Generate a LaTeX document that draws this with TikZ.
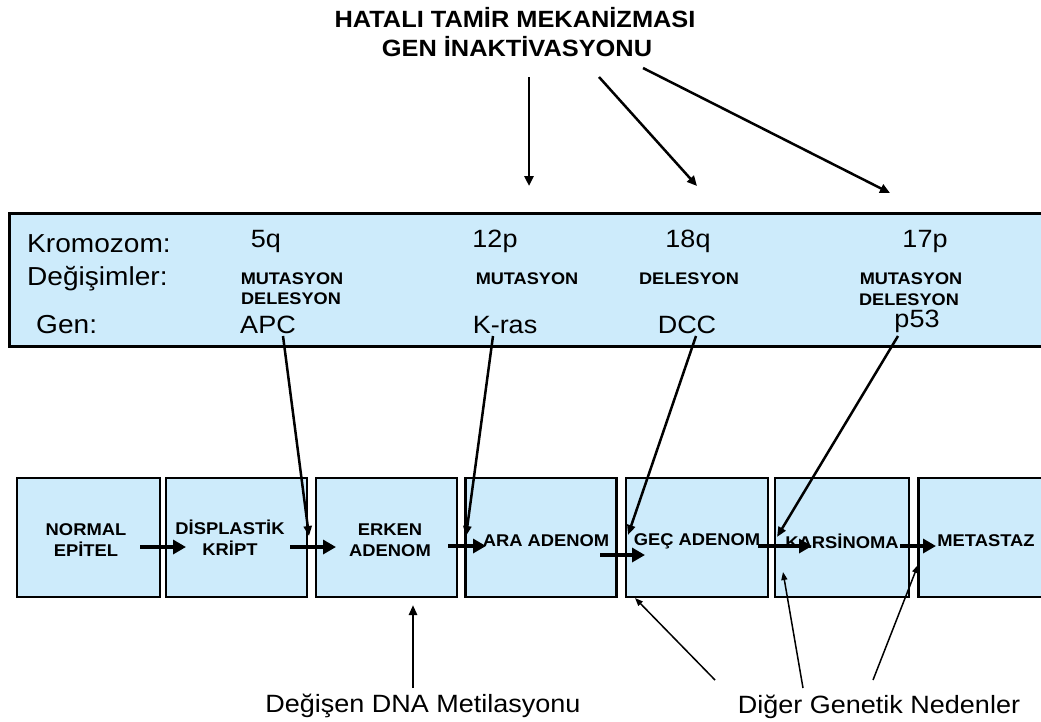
\documentclass[tikz,border=0pt]{standalone}
\usepackage{fontspec}
\setmainfont[FakeStretch=1.08]{Liberation Sans}
\usetikzlibrary{arrows.meta}
\definecolor{boxblue}{RGB}{205,235,251}
\begin{document}
\begin{tikzpicture}[x=1pt,y=-1pt,
  panel/.style={draw=black, line width=2.5pt, fill=boxblue, inner sep=0pt},
  stage/.style={draw=black, line width=2.5pt, fill=boxblue, inner sep=0pt, minimum height=119pt},
  lbl/.style={font=\fontsize{17}{21}\selectfont\bfseries, align=center, inner sep=0pt},
  big/.style={font=\fontsize{26}{30}\selectfont, inner sep=0pt},
  chr/.style={font=\fontsize{25}{30}\selectfont, inner sep=0pt},
  small/.style={font=\fontsize{16.8}{20}\selectfont\bfseries, align=center, inner sep=0pt},
  ttl/.style={font=\fontsize{23.5}{29}\selectfont\bfseries, align=center, inner sep=0pt},
  foot/.style={font=\fontsize{25}{30}\selectfont, inner sep=0pt},
  flow/.style={line width=4.5pt, -{Triangle[length=13pt,width=14pt]}},
  gene/.style={line width=2.5pt, -{Triangle[length=10pt,width=8pt]}},
  topar/.style={line width=2.5pt, -{Triangle[length=10pt,width=9pt]}},
  thin/.style={line width=1.5pt, -{Triangle[length=8pt,width=6pt]}}
]
\useasboundingbox (0,0) rectangle (1041,721);
\begin{scope}
\clip (0,0) rectangle (1041,721);
% top panel
\node[panel, minimum width=1050pt, minimum height=133pt, anchor=north west] (panel) at (8,212) {};
% stages
\node[stage, minimum width=143pt] (b1) at (88.5,537.5) {};
\node[stage, minimum width=141pt] (b2) at (236.5,537.5) {};
\node[stage, minimum width=141pt] (b3) at (386.5,537.5) {};
\node[stage, minimum width=151pt] (b4) at (541,537.5) {};
\node[stage, minimum width=142pt] (b5) at (697,537.5) {};
\node[stage, minimum width=134pt] (b6) at (842,537.5) {};
\node[stage, minimum width=134pt, anchor=west] (b7) at (917,537.5) {};
\end{scope}

% title
\node[ttl, anchor=base] (t1) at (515,27) {HATALI TAMİR MEKANİZMASI};
\node[ttl, anchor=base] (t2) at (517,56) {GEN İNAKTİVASYONU};

% panel texts
\node[big, anchor=base west] (krom) at (27,252) {Kromozom:};
\node[big, anchor=base west] (degis) at (27,285) {Değişimler:};
\node[big, anchor=base west] (gen) at (36,333) {Gen:};

\node[chr, anchor=base] (c5q) at (266,247) {5q};
\node[chr, anchor=base] (c12p) at (495,247) {12p};
\node[chr, anchor=base] (c18q) at (688,247) {18q};
\node[chr, anchor=base] (c17p) at (925,247) {17p};

\node[small, anchor=base] (m1) at (292,284) {MUTASYON};
\node[small, anchor=base] (d1) at (291,304) {DELESYON};
\node[small, anchor=base] (m2) at (527,284) {MUTASYON};
\node[small, anchor=base] (d3) at (689,284) {DELESYON};
\node[small, anchor=base] (m4) at (911,284) {MUTASYON};
\node[small, anchor=base] (d4) at (909,305) {DELESYON};

\node[chr, anchor=base] (apc) at (268,333) {APC};
\node[chr, anchor=base] (kras) at (505,333) {K-ras};
\node[chr, anchor=base] (dcc) at (687,333) {DCC};
\node[chr, anchor=base] (p53) at (917,327) {p53};

% stage labels
\node[lbl] (l1) at (86,540) {NORMAL\\EPİTEL};
\node[lbl] (l2) at (230,538) {DİSPLASTİK\\KRİPT};
\node[lbl] (l3) at (390,540) {ERKEN\\ADENOM};
\node[lbl] (l4) at (546,541) {ARA ADENOM};
\node[lbl] (l5) at (697,541) {GEÇ ADENOM};
\node[lbl] (l6) at (842,541) {KARSİNOMA};
\node[lbl] (l7) at (986,541) {METASTAZ};

% bottom labels
\node[foot, anchor=base] (dna) at (423,712) {Değişen DNA Metilasyonu};
\node[foot, anchor=base] (diger) at (879,713) {Diğer Genetik Nedenler};

% coordinates
\coordinate (a1s) at (529,77);  \coordinate (a1e) at (529,186);
\coordinate (a2s) at (599,77);  \coordinate (a2e) at (697,186);
\coordinate (a3s) at (643,68);  \coordinate (a3e) at (890,193);

\coordinate (g1s) at (283,336); \coordinate (g1e) at (309,536);
\coordinate (g2s) at (493,336); \coordinate (g2e) at (466,536);
\coordinate (g3s) at (696,336); \coordinate (g3e) at (628,535);
\coordinate (g4s) at (898,336); \coordinate (g4e) at (777,537);

\coordinate (f1s) at (140,547); \coordinate (f1e) at (186,547);
\coordinate (f2s) at (290,547); \coordinate (f2e) at (336,547);
\coordinate (f3s) at (448,546); \coordinate (f3e) at (486,546);
\coordinate (f4s) at (600,555); \coordinate (f4e) at (645,555);
\coordinate (f5s) at (758,546); \coordinate (f5e) at (812,546);
\coordinate (f6s) at (900,546); \coordinate (f6e) at (936,546);

\coordinate (dnas) at (413,688); \coordinate (dnae) at (413,605);
\coordinate (o1s) at (715,680); \coordinate (o1e) at (635,598);
\coordinate (o2s) at (803,688); \coordinate (o2e) at (783,572);
\coordinate (o3s) at (873,680); \coordinate (o3e) at (918,565);

% arrows
\draw[topar] (a1s) -- (a1e);
\draw[topar] (a2s) -- (a2e);
\draw[topar] (a3s) -- (a3e);

\draw[flow] (f1s) -- (f1e);
\draw[flow] (f2s) -- (f2e);
\draw[flow] (f3s) -- (f3e);
\draw[flow] (f4s) -- (f4e);
\draw[flow] (f5s) -- (f5e);
\draw[flow] (f6s) -- (f6e);

\draw[gene] (g1s) -- (g1e);
\draw[gene] (g2s) -- (g2e);
\draw[gene] (g3s) -- (g3e);
\draw[gene] (g4s) -- (g4e);

\draw[gene] (dnas) -- (dnae);
\draw[thin] (o1s) -- (o1e);
\draw[thin] (o2s) -- (o2e);
\draw[thin] (o3s) -- (o3e);
\end{tikzpicture}
\end{document}
